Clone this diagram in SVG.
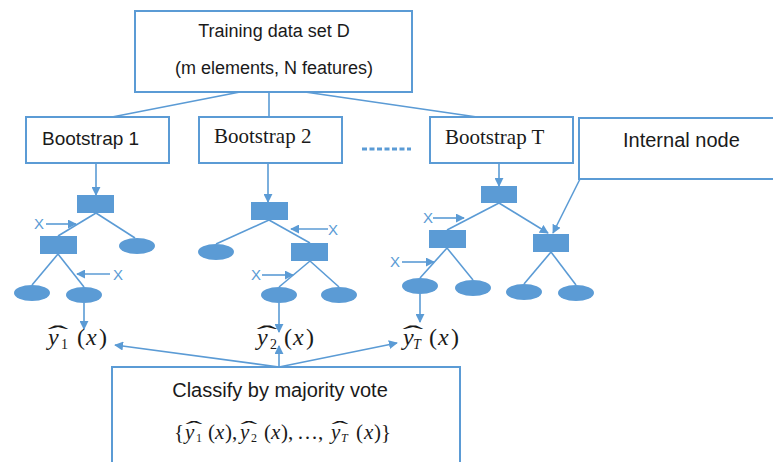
<svg xmlns="http://www.w3.org/2000/svg" width="773" height="462" viewBox="0 0 773 462">
<style>
.box{fill:#fff;stroke:#5B9BD5;stroke-width:2}
.ln{fill:none;stroke:#5B9BD5;stroke-width:1.6}
.arr{fill:none;stroke:#5B9BD5;stroke-width:1.6;marker-end:url(#ah)}
.nd{fill:#5B9BD5}
.sans{font-family:"Liberation Sans",Arial,sans-serif;fill:#1a1a1a}
.serif{font-family:"Liberation Serif","Times New Roman",serif;fill:#1a1a1a}
.xl{font-family:"Liberation Sans",Arial,sans-serif;font-size:15px;fill:#5B9BD5;text-anchor:middle}
.m{font-family:"Liberation Serif","Times New Roman",serif;fill:#1a1a1a}
.it{font-style:italic}
.hat{font-family:"Liberation Serif","Times New Roman",serif;fill:#1a1a1a;text-anchor:middle}
</style>
<defs>
<marker id="ah" viewBox="0 0 10 10" refX="9" refY="5" markerWidth="9" markerHeight="9" markerUnits="userSpaceOnUse" orient="auto">
<path d="M0,0 L10,5 L0,10 z" fill="#5B9BD5"/>
</marker>
</defs>

<g id="connectors">
<line class="ln" x1="240" y1="92" x2="112" y2="117"/>
<line class="ln" x1="269" y1="92" x2="269" y2="117"/>
<line class="ln" x1="305" y1="92" x2="477" y2="117"/>
<line x1="362" y1="149" x2="411" y2="149" stroke="#5B9BD5" stroke-width="3" stroke-dasharray="5 2.5"/>
<line class="arr" x1="96" y1="163" x2="96" y2="195"/>
<line class="ln" x1="96" y1="213" x2="58" y2="236"/>
<line class="ln" x1="96" y1="213" x2="135" y2="238"/>
<line class="ln" x1="58" y1="254" x2="32" y2="285"/>
<line class="ln" x1="58" y1="254" x2="84" y2="287"/>
<line class="arr" x1="46" y1="224" x2="76" y2="224"/>
<line class="arr" x1="110" y1="274" x2="77" y2="274"/>
<line class="arr" x1="84" y1="303" x2="84" y2="329"/>
<line class="arr" x1="268" y1="163" x2="268" y2="202"/>
<line class="ln" x1="269" y1="220" x2="216" y2="244"/>
<line class="ln" x1="269" y1="220" x2="310" y2="243"/>
<line class="ln" x1="310" y1="261" x2="279" y2="287"/>
<line class="ln" x1="310" y1="261" x2="339" y2="287"/>
<line class="arr" x1="328" y1="229" x2="291" y2="229"/>
<line class="arr" x1="262" y1="275" x2="293" y2="275"/>
<line class="arr" x1="279" y1="303" x2="279" y2="332"/>
<line class="arr" x1="499" y1="163" x2="499" y2="186"/>
<line class="ln" x1="499" y1="203" x2="447" y2="230"/>
<line class="arr" x1="499" y1="203" x2="548" y2="233"/>
<line class="arr" x1="580" y1="179" x2="553" y2="233"/>
<line class="ln" x1="447" y1="248" x2="420" y2="278"/>
<line class="ln" x1="447" y1="248" x2="473" y2="280"/>
<line class="ln" x1="551" y1="252" x2="524" y2="284"/>
<line class="ln" x1="551" y1="252" x2="576" y2="285"/>
<line class="arr" x1="433" y1="218" x2="464" y2="218"/>
<line class="arr" x1="402" y1="262" x2="434" y2="262"/>
<line class="arr" x1="420" y1="294" x2="420" y2="322"/>
<line class="arr" x1="279" y1="367" x2="115" y2="345"/>
<line class="arr" x1="279" y1="367" x2="279" y2="346"/>
<line class="arr" x1="279" y1="367" x2="397" y2="343"/>
</g>

<g id="training">
<rect class="box" x="135" y="11" width="277" height="81"/>
<text class="sans" x="274" y="37" font-size="18" text-anchor="middle">Training data set D</text>
<text class="sans" x="274" y="74" font-size="18" text-anchor="middle">(m elements, N features)</text>
</g>
<g id="bootstrap1">
<rect class="box" x="26" y="117" width="143" height="46"/>
<text class="sans" x="42" y="145" font-size="19">Bootstrap 1</text>
</g>
<g id="bootstrap2">
<rect class="box" x="199" y="117" width="143" height="46"/>
<text class="serif" x="214" y="143" font-size="21">Bootstrap 2</text>
</g>
<g id="bootstrapT">
<rect class="box" x="430" y="117" width="143" height="46"/>
<text class="serif" x="445" y="144" font-size="21">Bootstrap T</text>
</g>
<g id="internal-node">
<rect class="box" x="579" y="118" width="210" height="61"/>
<text class="sans" x="623" y="147" font-size="20">Internal node</text>
</g>

<g id="tree1">
<rect class="nd" x="77" y="195" width="37" height="18"/>
<rect class="nd" x="40" y="236" width="37" height="18"/>
<ellipse class="nd" cx="137" cy="246" rx="18" ry="8"/>
<ellipse class="nd" cx="32" cy="293" rx="18" ry="8"/>
<ellipse class="nd" cx="84" cy="295" rx="18" ry="8"/>
<text class="xl" x="39" y="229">X</text>
<text class="xl" x="118" y="280">X</text>
</g>
<g id="tree2">
<rect class="nd" x="251" y="202" width="37" height="18"/>
<rect class="nd" x="291" y="243" width="37" height="18"/>
<ellipse class="nd" cx="216" cy="252" rx="18" ry="8"/>
<ellipse class="nd" cx="279" cy="295" rx="18" ry="8"/>
<ellipse class="nd" cx="339" cy="295" rx="18" ry="8"/>
<text class="xl" x="333" y="235">X</text>
<text class="xl" x="256" y="280">X</text>
</g>
<g id="treeT">
<rect class="nd" x="481" y="186" width="36" height="17"/>
<rect class="nd" x="429" y="230" width="37" height="18"/>
<rect class="nd" x="533" y="234" width="36" height="18"/>
<ellipse class="nd" cx="420" cy="286" rx="18" ry="8"/>
<ellipse class="nd" cx="473" cy="288" rx="18" ry="8"/>
<ellipse class="nd" cx="524" cy="292" rx="18" ry="8"/>
<ellipse class="nd" cx="576" cy="293" rx="18" ry="8"/>
<text class="xl" x="428" y="223">X</text>
<text class="xl" x="395" y="267">X</text>
</g>

<g id="y1">
<text class="hat" font-size="24" transform="translate(58,342) scale(2.6,1)">ˆ</text>
<text class="m it" x="48" y="345" font-size="24">y</text>
<text class="m" x="61" y="349" font-size="14">1</text>
<text class="m" x="77" y="345" font-size="24">(</text>
<text class="m it" x="86" y="345" font-size="24">x</text>
<text class="m" x="99" y="345" font-size="24">)</text>
</g>
<g id="y2">
<text class="hat" font-size="24" transform="translate(267,342) scale(2.6,1)">ˆ</text>
<text class="m it" x="257" y="345" font-size="24">y</text>
<text class="m" x="270" y="349" font-size="14">2</text>
<text class="m" x="284" y="345" font-size="24">(</text>
<text class="m it" x="293" y="345" font-size="24">x</text>
<text class="m" x="306" y="345" font-size="24">)</text>
</g>
<g id="yT">
<text class="hat" font-size="24" transform="translate(413,342) scale(2.6,1)">ˆ</text>
<text class="m it" x="403" y="345" font-size="24">y</text>
<text class="m it" x="413" y="349" font-size="14">T</text>
<text class="m" x="429" y="345" font-size="24">(</text>
<text class="m it" x="438" y="345" font-size="24">x</text>
<text class="m" x="451" y="345" font-size="24">)</text>
</g>

<g id="vote">
<rect class="box" x="112" y="367" width="348" height="120"/>
<text class="sans" x="280" y="397" font-size="20" text-anchor="middle">Classify by majority vote</text>
<text class="m" x="174" y="439" font-size="21">{</text>
<text class="hat" font-size="21" transform="translate(194,436) scale(2.4,1)">ˆ</text>
<text class="m it" x="185" y="439" font-size="21">y</text>
<text class="m" x="196" y="442" font-size="12">1</text>
<text class="m" x="208" y="439" font-size="21">(</text>
<text class="m it" x="215" y="439" font-size="21">x</text>
<text class="m" x="225" y="439" font-size="21">),</text>
<text class="hat" font-size="21" transform="translate(249,436) scale(2.4,1)">ˆ</text>
<text class="m it" x="240" y="439" font-size="21">y</text>
<text class="m" x="251" y="442" font-size="12">2</text>
<text class="m" x="264" y="439" font-size="21">(</text>
<text class="m it" x="271" y="439" font-size="21">x</text>
<text class="m" x="281" y="439" font-size="21">),</text>
<text class="m" x="297" y="439" font-size="21">…,</text>
<text class="hat" font-size="21" transform="translate(340,436) scale(2.4,1)">ˆ</text>
<text class="m it" x="331" y="439" font-size="21">y</text>
<text class="m it" x="341" y="442" font-size="12">T</text>
<text class="m" x="356" y="439" font-size="21">(</text>
<text class="m it" x="364" y="439" font-size="21">x</text>
<text class="m" x="374" y="439" font-size="21">)}</text>
</g>
</svg>
